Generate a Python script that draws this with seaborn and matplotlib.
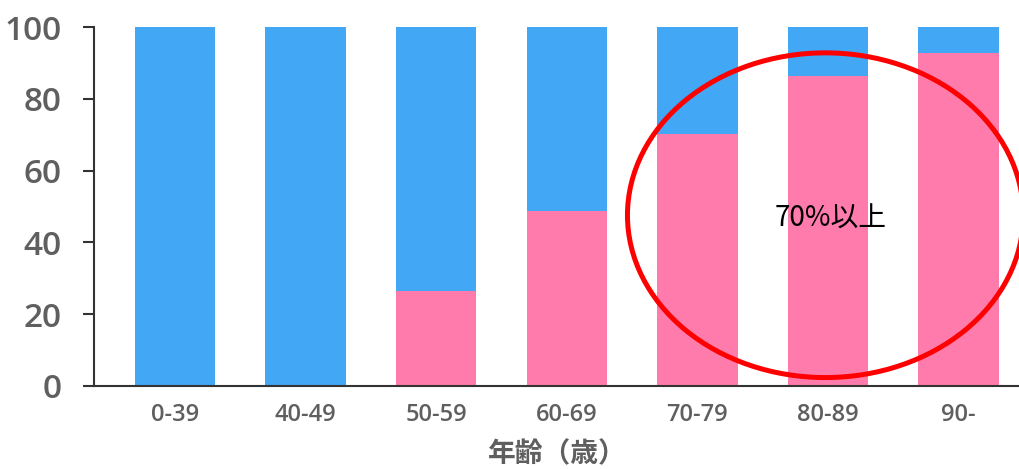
import pandas as pd
import matplotlib.pyplot as plt
import seaborn as sns
from matplotlib.patches import Ellipse

# age groups and share (%) for the pink part, blue fills up to 100
age_groups = ["0-39", "40-49", "50-59", "60-69", "70-79", "80-89", "90-"]
pink_share = [0, 0, 26.5, 48.8, 70.2, 86.4, 92.7]
total = [100, 100, 100, 100, 100, 100, 100]

df = pd.DataFrame({"age": age_groups, "pink": pink_share, "total": total})

sns.set_style("white")
plt.rcParams["font.family"] = ["Open Sans", "Noto Sans CJK JP", "DejaVu Sans"]

fig = plt.figure(figsize=(10.2, 4.69), dpi=100)
ax = fig.add_axes([0.092, 0.177, 0.908, 0.765])

blue = "#42A7F5"
pink = "#FF7BAC"
sns.barplot(data=df, x="age", y="total", color=blue, width=0.615, saturation=1, linewidth=0, ax=ax)
sns.barplot(data=df, x="age", y="pink", color=pink, width=0.615, saturation=1, linewidth=0, ax=ax)

ax.set_xlim(-0.62, 6.47)
ax.set_ylim(0, 100)
ax.set_yticks([0, 20, 40, 60, 80, 100])

grey = "#5f5f5f"
ax.tick_params(axis="y", labelsize=24, labelcolor=grey, length=8, width=1.5, color="#333333",
               direction="out", left=True, pad=15)
ax.tick_params(axis="x", labelsize=17, labelcolor=grey, length=0, pad=12)
for lab in ax.get_yticklabels() + ax.get_xticklabels():
    lab.set_fontweight("semibold")
ax.set_ylabel("")
ax.set_xlabel("年齢（歳）", fontsize=20, color=grey, fontweight="bold", labelpad=10,
              family=["Noto Sans CJK JP", "DejaVu Sans"])

for s in ["top", "right"]:
    ax.spines[s].set_visible(False)
ax.spines["left"].set_color("#333333")
ax.spines["bottom"].set_color("#333333")
ax.spines["left"].set_linewidth(1.5)
ax.spines["bottom"].set_linewidth(1.5)

# red circle highlighting the older groups
ell = Ellipse((4.98, 47.6), 3.03, 90.5, fill=False, edgecolor="#FF0000", linewidth=3.6, clip_on=False, zorder=5)
ax.add_patch(ell)
ax.text(5.02, 46.5, "70%以上", fontsize=20, color="black", ha="center", va="center", zorder=6,
        family=["Noto Sans CJK JP", "DejaVu Sans"])

plt.savefig("out.png", dpi=100)
